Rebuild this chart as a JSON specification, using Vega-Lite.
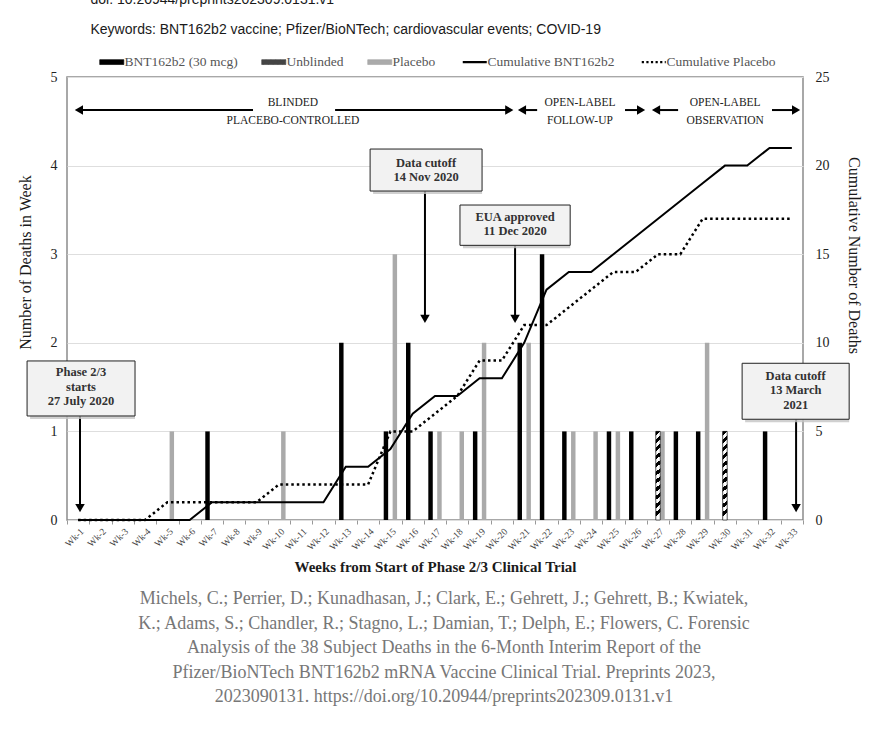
{
  "$schema": "https://vega.github.io/schema/vega-lite/v6.json",
  "autosize": {"type": "none"},
  "padding": {"left": 67, "top": 77, "right": 87, "bottom": 216},
  "width": 736,
  "height": 443,
  "background": "white",
  "config": {
    "font": "Liberation Serif",
    "view": {"stroke": "#8c8c8c", "strokeWidth": 1.5}
  },
  "title": {
    "text": [
      "Michels, C.; Perrier, D.; Kunadhasan, J.; Clark, E.; Gehrett, J.; Gehrett, B.; Kwiatek,",
      "K.; Adams, S.; Chandler, R.; Stagno, L.; Damian, T.; Delph, E.; Flowers, C. Forensic",
      "Analysis of the 38 Subject Deaths in the 6-Month Interim Report of the",
      "Pfizer/BioNTech BNT162b2 mRNA Vaccine Clinical Trial. Preprints 2023,",
      "2023090131. https://doi.org/10.20944/preprints202309.0131.v1"
    ],
    "orient": "bottom",
    "anchor": "middle",
    "frame": "group",
    "font": "Liberation Serif",
    "fontSize": 18,
    "fontWeight": "normal",
    "color": "#777777",
    "lineHeight": 24.5,
    "offset": 16,
    "dx": 9
  },
  "datasets": {
    "bars": [
      {"week": "Wk-7", "series": "BNT162b2 (30 mcg)", "deaths": 1},
      {"week": "Wk-13", "series": "BNT162b2 (30 mcg)", "deaths": 2},
      {"week": "Wk-15", "series": "BNT162b2 (30 mcg)", "deaths": 1},
      {"week": "Wk-16", "series": "BNT162b2 (30 mcg)", "deaths": 2},
      {"week": "Wk-17", "series": "BNT162b2 (30 mcg)", "deaths": 1},
      {"week": "Wk-19", "series": "BNT162b2 (30 mcg)", "deaths": 1},
      {"week": "Wk-21", "series": "BNT162b2 (30 mcg)", "deaths": 2},
      {"week": "Wk-22", "series": "BNT162b2 (30 mcg)", "deaths": 3},
      {"week": "Wk-23", "series": "BNT162b2 (30 mcg)", "deaths": 1},
      {"week": "Wk-25", "series": "BNT162b2 (30 mcg)", "deaths": 1},
      {"week": "Wk-26", "series": "BNT162b2 (30 mcg)", "deaths": 1},
      {"week": "Wk-28", "series": "BNT162b2 (30 mcg)", "deaths": 1},
      {"week": "Wk-29", "series": "BNT162b2 (30 mcg)", "deaths": 1},
      {"week": "Wk-32", "series": "BNT162b2 (30 mcg)", "deaths": 1},
      {"week": "Wk-27", "series": "Unblinded", "deaths": 1},
      {"week": "Wk-30", "series": "Unblinded", "deaths": 1},
      {"week": "Wk-5", "series": "Placebo", "deaths": 1},
      {"week": "Wk-10", "series": "Placebo", "deaths": 1},
      {"week": "Wk-15", "series": "Placebo", "deaths": 3},
      {"week": "Wk-17", "series": "Placebo", "deaths": 1},
      {"week": "Wk-18", "series": "Placebo", "deaths": 1},
      {"week": "Wk-19", "series": "Placebo", "deaths": 2},
      {"week": "Wk-21", "series": "Placebo", "deaths": 2},
      {"week": "Wk-23", "series": "Placebo", "deaths": 1},
      {"week": "Wk-24", "series": "Placebo", "deaths": 1},
      {"week": "Wk-25", "series": "Placebo", "deaths": 1},
      {"week": "Wk-27", "series": "Placebo", "deaths": 1},
      {"week": "Wk-29", "series": "Placebo", "deaths": 2}
    ],
    "cum": [
      {"week": "Wk-1", "series": "Cumulative BNT162b2", "cum": 0},
      {"week": "Wk-2", "series": "Cumulative BNT162b2", "cum": 0},
      {"week": "Wk-3", "series": "Cumulative BNT162b2", "cum": 0},
      {"week": "Wk-4", "series": "Cumulative BNT162b2", "cum": 0},
      {"week": "Wk-5", "series": "Cumulative BNT162b2", "cum": 0},
      {"week": "Wk-6", "series": "Cumulative BNT162b2", "cum": 0},
      {"week": "Wk-7", "series": "Cumulative BNT162b2", "cum": 1},
      {"week": "Wk-8", "series": "Cumulative BNT162b2", "cum": 1},
      {"week": "Wk-9", "series": "Cumulative BNT162b2", "cum": 1},
      {"week": "Wk-10", "series": "Cumulative BNT162b2", "cum": 1},
      {"week": "Wk-11", "series": "Cumulative BNT162b2", "cum": 1},
      {"week": "Wk-12", "series": "Cumulative BNT162b2", "cum": 1},
      {"week": "Wk-13", "series": "Cumulative BNT162b2", "cum": 3},
      {"week": "Wk-14", "series": "Cumulative BNT162b2", "cum": 3},
      {"week": "Wk-15", "series": "Cumulative BNT162b2", "cum": 4},
      {"week": "Wk-16", "series": "Cumulative BNT162b2", "cum": 6},
      {"week": "Wk-17", "series": "Cumulative BNT162b2", "cum": 7},
      {"week": "Wk-18", "series": "Cumulative BNT162b2", "cum": 7},
      {"week": "Wk-19", "series": "Cumulative BNT162b2", "cum": 8},
      {"week": "Wk-20", "series": "Cumulative BNT162b2", "cum": 8},
      {"week": "Wk-21", "series": "Cumulative BNT162b2", "cum": 10},
      {"week": "Wk-22", "series": "Cumulative BNT162b2", "cum": 13},
      {"week": "Wk-23", "series": "Cumulative BNT162b2", "cum": 14},
      {"week": "Wk-24", "series": "Cumulative BNT162b2", "cum": 14},
      {"week": "Wk-25", "series": "Cumulative BNT162b2", "cum": 15},
      {"week": "Wk-26", "series": "Cumulative BNT162b2", "cum": 16},
      {"week": "Wk-27", "series": "Cumulative BNT162b2", "cum": 17},
      {"week": "Wk-28", "series": "Cumulative BNT162b2", "cum": 18},
      {"week": "Wk-29", "series": "Cumulative BNT162b2", "cum": 19},
      {"week": "Wk-30", "series": "Cumulative BNT162b2", "cum": 20},
      {"week": "Wk-31", "series": "Cumulative BNT162b2", "cum": 20},
      {"week": "Wk-32", "series": "Cumulative BNT162b2", "cum": 21},
      {"week": "Wk-33", "series": "Cumulative BNT162b2", "cum": 21},
      {"week": "Wk-1", "series": "Cumulative Placebo", "cum": 0},
      {"week": "Wk-2", "series": "Cumulative Placebo", "cum": 0},
      {"week": "Wk-3", "series": "Cumulative Placebo", "cum": 0},
      {"week": "Wk-4", "series": "Cumulative Placebo", "cum": 0},
      {"week": "Wk-5", "series": "Cumulative Placebo", "cum": 1},
      {"week": "Wk-6", "series": "Cumulative Placebo", "cum": 1},
      {"week": "Wk-7", "series": "Cumulative Placebo", "cum": 1},
      {"week": "Wk-8", "series": "Cumulative Placebo", "cum": 1},
      {"week": "Wk-9", "series": "Cumulative Placebo", "cum": 1},
      {"week": "Wk-10", "series": "Cumulative Placebo", "cum": 2},
      {"week": "Wk-11", "series": "Cumulative Placebo", "cum": 2},
      {"week": "Wk-12", "series": "Cumulative Placebo", "cum": 2},
      {"week": "Wk-13", "series": "Cumulative Placebo", "cum": 2},
      {"week": "Wk-14", "series": "Cumulative Placebo", "cum": 2},
      {"week": "Wk-15", "series": "Cumulative Placebo", "cum": 5},
      {"week": "Wk-16", "series": "Cumulative Placebo", "cum": 5},
      {"week": "Wk-17", "series": "Cumulative Placebo", "cum": 6},
      {"week": "Wk-18", "series": "Cumulative Placebo", "cum": 7},
      {"week": "Wk-19", "series": "Cumulative Placebo", "cum": 9},
      {"week": "Wk-20", "series": "Cumulative Placebo", "cum": 9},
      {"week": "Wk-21", "series": "Cumulative Placebo", "cum": 11},
      {"week": "Wk-22", "series": "Cumulative Placebo", "cum": 11},
      {"week": "Wk-23", "series": "Cumulative Placebo", "cum": 12},
      {"week": "Wk-24", "series": "Cumulative Placebo", "cum": 13},
      {"week": "Wk-25", "series": "Cumulative Placebo", "cum": 14},
      {"week": "Wk-26", "series": "Cumulative Placebo", "cum": 14},
      {"week": "Wk-27", "series": "Cumulative Placebo", "cum": 15},
      {"week": "Wk-28", "series": "Cumulative Placebo", "cum": 15},
      {"week": "Wk-29", "series": "Cumulative Placebo", "cum": 17},
      {"week": "Wk-30", "series": "Cumulative Placebo", "cum": 17},
      {"week": "Wk-31", "series": "Cumulative Placebo", "cum": 17},
      {"week": "Wk-32", "series": "Cumulative Placebo", "cum": 17},
      {"week": "Wk-33", "series": "Cumulative Placebo", "cum": 17}
    ],
    "boxes": [
      {"cx": 0.628, "cy": 1.665, "x1": -1.79, "x2": 3.05, "y1": 1.174, "y2": 1.795, "label": "Phase 2/3\nstarts\n27 July 2020"},
      {"cx": 16.1, "cy": 4.03, "x1": 13.59, "x2": 18.61, "y1": 3.713, "y2": 4.187, "label": "Data cutoff\n14 Nov 2020"},
      {"cx": 20.09, "cy": 3.423, "x1": 17.62, "x2": 22.56, "y1": 3.10, "y2": 3.555, "label": "EUA approved\n11 Dec 2020"},
      {"cx": 32.67, "cy": 1.63, "x1": 30.27, "x2": 35.07, "y1": 1.137, "y2": 1.769, "label": "Data cutoff\n13 March\n2021"}
    ],
    "arrows": [
      {"x": 0.583, "x2": 0.583, "y": 1.174, "y2": 0.16},
      {"x": 16.05, "x2": 16.05, "y": 3.713, "y2": 2.3},
      {"x": 20.09, "x2": 20.09, "y": 3.1, "y2": 2.3},
      {"x": 32.69, "x2": 32.69, "y": 1.137, "y2": 0.16},
      {"x": 0.6, "x2": 8.34, "y": 4.627, "y2": 4.627},
      {"x": 12.02, "x2": 19.8, "y": 4.627, "y2": 4.627},
      {"x": 20.45, "x2": 21.08, "y": 4.627, "y2": 4.627},
      {"x": 25.02, "x2": 25.7, "y": 4.627, "y2": 4.627},
      {"x": 26.45, "x2": 27.4, "y": 4.627, "y2": 4.627},
      {"x": 31.61, "x2": 32.65, "y": 4.627, "y2": 4.627}
    ],
    "heads": [
      {"x": 0.583, "y": 0.135, "dir": "down"},
      {"x": 16.05, "y": 2.27, "dir": "down"},
      {"x": 20.09, "y": 2.27, "dir": "down"},
      {"x": 32.69, "y": 0.135, "dir": "down"},
      {"x": 0.534, "y": 4.627, "dir": "left"},
      {"x": 20.4, "y": 4.627, "dir": "left"},
      {"x": 26.41, "y": 4.627, "dir": "left"},
      {"x": 19.83, "y": 4.627, "dir": "right"},
      {"x": 25.74, "y": 4.627, "dir": "right"},
      {"x": 32.69, "y": 4.627, "dir": "right"}
    ],
    "phases": [
      {"x": 10.13, "y": 4.707, "label": "BLINDED\nPLACEBO-CONTROLLED"},
      {"x": 23.0, "y": 4.707, "label": "OPEN-LABEL\nFOLLOW-UP"},
      {"x": 29.51, "y": 4.707, "label": "OPEN-LABEL\nOBSERVATION"}
    ]
  },
  "resolve": {
    "scale": {"x": "independent", "y": "independent"},
    "axis": {"x": "independent", "y": "independent"}
  },
  "layer": [
    {
      "data": {"name": "bars"},
      "mark": {"type": "bar"},
      "encoding": {
        "x": {
          "field": "week", "type": "nominal",
          "scale": {"domain": ["Wk-1","Wk-2","Wk-3","Wk-4","Wk-5","Wk-6","Wk-7","Wk-8","Wk-9","Wk-10","Wk-11","Wk-12","Wk-13","Wk-14","Wk-15","Wk-16","Wk-17","Wk-18","Wk-19","Wk-20","Wk-21","Wk-22","Wk-23","Wk-24","Wk-25","Wk-26","Wk-27","Wk-28","Wk-29","Wk-30","Wk-31","Wk-32","Wk-33"], "paddingInner": 0, "paddingOuter": 0},
          "axis": {
            "orient": "bottom",
            "title": "Weeks from Start of Phase 2/3 Clinical Trial",
            "titleFont": "Liberation Serif", "titleFontSize": 15, "titleFontWeight": "bold", "titleColor": "#1a1a1a",
            "titlePadding": 8,
            "labelAngle": -45, "labelFont": "Liberation Serif", "labelFontSize": 9.5, "labelColor": "#444",
            "labelPadding": 2,
            "tickBand": "extent", "ticks": true, "tickSize": 4, "tickColor": "#999",
            "domain": false, "grid": false
          }
        },
        "xOffset": {"field": "series", "type": "nominal", "scale": {"domain": ["BNT162b2 (30 mcg)", "Unblinded", "Placebo"], "paddingInner": 0, "paddingOuter": 1.5}},
        "y": {
          "field": "deaths", "type": "quantitative",
          "scale": {"domain": [0, 5], "nice": false},
          "axis": {
            "orient": "left", "values": [0, 1, 2, 3, 4, 5],
            "title": "Number of Deaths in Week",
            "titleFont": "Liberation Serif", "titleFontSize": 16, "titleFontWeight": "normal", "titleColor": "#1a1a1a",
            "titleX": -34, "titleY": 185,
            "labelFont": "Liberation Serif", "labelFontSize": 14, "labelColor": "#222", "labelPadding": 10,
            "ticks": false, "domain": false, "grid": true, "gridColor": "#dedede"
          }
        },
        "color": {
          "field": "series", "type": "nominal",
          "scale": {
            "domain": ["BNT162b2 (30 mcg)", "Unblinded", "Placebo", "Cumulative BNT162b2", "Cumulative Placebo"],
            "range": ["#000000", "#444444", "#aaaaaa", "#000000", "#000000"]
          },
          "legend": {
            "title": null, "orient": "none", "legendX": 38, "legendY": -22, "direction": "horizontal",
            "symbolSize": 576, "labelFont": "Liberation Serif", "labelFontSize": 13.5, "labelColor": "#555",
            "columnPadding": 22, "labelOffset": 6,
            "encode": {
              "symbols": {
                "update": {
                  "shape": {"signal": "datum.value === 'Unblinded' ? 'M-1,-0.2H1V0.2H-1Z M-0.85,0.2L-0.65,-0.2 M-0.45,0.2L-0.25,-0.2 M-0.05,0.2L0.15,-0.2 M0.35,0.2L0.55,-0.2 M0.75,0.2L0.95,-0.2' : indexof(['Cumulative BNT162b2','Cumulative Placebo'], datum.value) >= 0 ? 'stroke' : 'M-1,-0.2H1V0.2H-1Z'"},
                  "fill": {"signal": "datum.value === 'BNT162b2 (30 mcg)' ? '#000000' : datum.value === 'Placebo' ? '#aaaaaa' : datum.value === 'Unblinded' ? '#ffffff' : 'transparent'"},
                  "stroke": {"signal": "datum.value === 'Placebo' ? '#aaaaaa' : '#000000'"},
                  "strokeWidth": {"signal": "indexof(['Cumulative BNT162b2','Cumulative Placebo'], datum.value) >= 0 ? 2.2 : datum.value === 'Unblinded' ? 0.8 : 0.8"},
                  "strokeDash": {"signal": "datum.value === 'Cumulative Placebo' ? [2.2, 2.4] : [1, 0]"},
                  "opacity": {"value": 1}
                }
              }
            }
          }
        }
      }
    },
    {
      "data": {"name": "bars"},
      "transform": [{"filter": "datum.series === 'Unblinded'"}],
      "mark": {
        "type": "bar", "stroke": "#000000", "strokeWidth": 0.6,
        "fill": {"gradient": "linear", "x1": 0, "y1": 0, "x2": 0.042, "y2": 1, "stops": [
          {"offset": 0, "color": "#000"}, {"offset": 0.045, "color": "#000"}, {"offset": 0.045, "color": "#fff"}, {"offset": 0.091, "color": "#fff"},
          {"offset": 0.091, "color": "#000"}, {"offset": 0.136, "color": "#000"}, {"offset": 0.136, "color": "#fff"}, {"offset": 0.182, "color": "#fff"},
          {"offset": 0.182, "color": "#000"}, {"offset": 0.227, "color": "#000"}, {"offset": 0.227, "color": "#fff"}, {"offset": 0.273, "color": "#fff"},
          {"offset": 0.273, "color": "#000"}, {"offset": 0.318, "color": "#000"}, {"offset": 0.318, "color": "#fff"}, {"offset": 0.364, "color": "#fff"},
          {"offset": 0.364, "color": "#000"}, {"offset": 0.409, "color": "#000"}, {"offset": 0.409, "color": "#fff"}, {"offset": 0.455, "color": "#fff"},
          {"offset": 0.455, "color": "#000"}, {"offset": 0.5, "color": "#000"}, {"offset": 0.5, "color": "#fff"}, {"offset": 0.545, "color": "#fff"},
          {"offset": 0.545, "color": "#000"}, {"offset": 0.591, "color": "#000"}, {"offset": 0.591, "color": "#fff"}, {"offset": 0.636, "color": "#fff"},
          {"offset": 0.636, "color": "#000"}, {"offset": 0.682, "color": "#000"}, {"offset": 0.682, "color": "#fff"}, {"offset": 0.727, "color": "#fff"},
          {"offset": 0.727, "color": "#000"}, {"offset": 0.773, "color": "#000"}, {"offset": 0.773, "color": "#fff"}, {"offset": 0.818, "color": "#fff"},
          {"offset": 0.818, "color": "#000"}, {"offset": 0.864, "color": "#000"}, {"offset": 0.864, "color": "#fff"}, {"offset": 0.909, "color": "#fff"},
          {"offset": 0.909, "color": "#000"}, {"offset": 0.955, "color": "#000"}, {"offset": 0.955, "color": "#fff"}, {"offset": 1, "color": "#fff"}
        ]}
      },
      "encoding": {
        "x": {
          "field": "week", "type": "nominal",
          "scale": {"domain": ["Wk-1","Wk-2","Wk-3","Wk-4","Wk-5","Wk-6","Wk-7","Wk-8","Wk-9","Wk-10","Wk-11","Wk-12","Wk-13","Wk-14","Wk-15","Wk-16","Wk-17","Wk-18","Wk-19","Wk-20","Wk-21","Wk-22","Wk-23","Wk-24","Wk-25","Wk-26","Wk-27","Wk-28","Wk-29","Wk-30","Wk-31","Wk-32","Wk-33"], "paddingInner": 0, "paddingOuter": 0},
          "axis": null
        },
        "xOffset": {"field": "series", "type": "nominal", "scale": {"domain": ["BNT162b2 (30 mcg)", "Unblinded", "Placebo"], "paddingInner": 0, "paddingOuter": 1.5}},
        "y": {"field": "deaths", "type": "quantitative", "scale": {"domain": [0, 5], "nice": false}, "axis": null}
      }
    },
    {
      "data": {"name": "cum"},
      "transform": [{"filter": "datum.series === 'Cumulative BNT162b2'"}],
      "mark": {"type": "line", "strokeWidth": 2},
      "encoding": {
        "x": {
          "field": "week", "type": "nominal",
          "scale": {"type": "point", "padding": 0.5, "domain": ["Wk-1","Wk-2","Wk-3","Wk-4","Wk-5","Wk-6","Wk-7","Wk-8","Wk-9","Wk-10","Wk-11","Wk-12","Wk-13","Wk-14","Wk-15","Wk-16","Wk-17","Wk-18","Wk-19","Wk-20","Wk-21","Wk-22","Wk-23","Wk-24","Wk-25","Wk-26","Wk-27","Wk-28","Wk-29","Wk-30","Wk-31","Wk-32","Wk-33"]},
          "axis": null
        },
        "y": {
          "field": "cum", "type": "quantitative",
          "scale": {"domain": [0, 25], "nice": false},
          "axis": {
            "orient": "right", "values": [0, 5, 10, 15, 20, 25],
            "title": "Cumulative Number of Deaths",
            "titleFont": "Liberation Serif", "titleFontSize": 16, "titleFontWeight": "normal", "titleColor": "#1a1a1a",
            "titleX": 42, "titleY": 178,
            "labelFont": "Liberation Serif", "labelFontSize": 14, "labelColor": "#222", "labelPadding": 12,
            "ticks": false, "domain": false, "grid": false
          }
        },
        "color": {"field": "series", "type": "nominal"}
      }
    },
    {
      "data": {"name": "cum"},
      "transform": [{"filter": "datum.series === 'Cumulative Placebo'"}],
      "mark": {"type": "line", "strokeWidth": 2.5, "strokeDash": [2.5, 3]},
      "encoding": {
        "x": {
          "field": "week", "type": "nominal",
          "scale": {"type": "point", "padding": 0.5, "domain": ["Wk-1","Wk-2","Wk-3","Wk-4","Wk-5","Wk-6","Wk-7","Wk-8","Wk-9","Wk-10","Wk-11","Wk-12","Wk-13","Wk-14","Wk-15","Wk-16","Wk-17","Wk-18","Wk-19","Wk-20","Wk-21","Wk-22","Wk-23","Wk-24","Wk-25","Wk-26","Wk-27","Wk-28","Wk-29","Wk-30","Wk-31","Wk-32","Wk-33"]},
          "axis": null
        },
        "y": {"field": "cum", "type": "quantitative", "scale": {"domain": [0, 25], "nice": false}, "axis": null},
        "color": {"field": "series", "type": "nominal"}
      }
    },
    {
      "data": {"name": "arrows"},
      "mark": {"type": "rule", "strokeWidth": 2, "color": "#000000"},
      "encoding": {
        "x": {"field": "x", "type": "quantitative", "scale": {"domain": [0, 33], "nice": false, "zero": false}, "axis": null},
        "x2": {"field": "x2"},
        "y": {"field": "y", "type": "quantitative", "scale": {"domain": [0, 5], "nice": false}, "axis": null},
        "y2": {"field": "y2"}
      }
    },
    {
      "data": {"name": "heads"},
      "mark": {"type": "point", "filled": true, "color": "#000000", "opacity": 1, "size": 90},
      "encoding": {
        "x": {"field": "x", "type": "quantitative", "scale": {"domain": [0, 33], "nice": false, "zero": false}, "axis": null},
        "y": {"field": "y", "type": "quantitative", "scale": {"domain": [0, 5], "nice": false}, "axis": null},
        "shape": {"field": "dir", "type": "nominal", "scale": {"domain": ["down", "left", "right"], "range": ["triangle-down", "triangle-left", "triangle-right"]}, "legend": null}
      }
    },
    {
      "data": {"name": "boxes"},
      "mark": {"type": "rect", "fill": "#c4c4c4", "opacity": 0.8, "xOffset": 3, "yOffset": 3},
      "encoding": {
        "x": {"field": "x1", "type": "quantitative", "scale": {"domain": [0, 33], "nice": false, "zero": false}, "axis": null},
        "x2": {"field": "x2"},
        "y": {"field": "y1", "type": "quantitative", "scale": {"domain": [0, 5], "nice": false}, "axis": null},
        "y2": {"field": "y2"}
      }
    },
    {
      "data": {"name": "boxes"},
      "mark": {"type": "rect", "fill": "#f2f2f2", "stroke": "#222222", "strokeWidth": 1},
      "encoding": {
        "x": {"field": "x1", "type": "quantitative", "scale": {"domain": [0, 33], "nice": false, "zero": false}, "axis": null},
        "x2": {"field": "x2"},
        "y": {"field": "y1", "type": "quantitative", "scale": {"domain": [0, 5], "nice": false}, "axis": null},
        "y2": {"field": "y2"}
      }
    },
    {
      "data": {"name": "boxes"},
      "mark": {"type": "text", "font": "Liberation Serif", "fontSize": 12.5, "fontWeight": "bold", "color": "#333333", "lineBreak": "\n", "lineHeight": 14.5, "align": "center", "baseline": "middle"},
      "encoding": {
        "x": {"field": "cx", "type": "quantitative", "scale": {"domain": [0, 33], "nice": false, "zero": false}, "axis": null},
        "y": {"field": "cy", "type": "quantitative", "scale": {"domain": [0, 5], "nice": false}, "axis": null},
        "text": {"field": "label"}
      }
    },
    {
      "data": {"name": "phases"},
      "mark": {"type": "text", "font": "Liberation Serif", "fontSize": 11.5, "color": "#222222", "lineBreak": "\n", "lineHeight": 18, "align": "center", "baseline": "middle"},
      "encoding": {
        "x": {
          "field": "x", "type": "quantitative", "scale": {"domain": [0, 33], "nice": false, "zero": false},
          "axis": {
            "orient": "top", "ticks": false, "labels": false, "domain": false, "grid": false,
            "title": ["doi: 10.20944/preprints202309.0131.v1", "Keywords: BNT162b2 vaccine; Pfizer/BioNTech; cardiovascular events; COVID-19"],
            "titleFont": "Liberation Sans", "titleFontSize": 14, "titleFontWeight": "normal", "titleColor": "#1a1a1a",
            "titleAnchor": "start", "titleAlign": "left", "titleBaseline": "alphabetic",
            "titleX": 23, "titleY": -74, "titleLineHeight": 30
          }
        },
        "y": {"field": "y", "type": "quantitative", "scale": {"domain": [0, 5], "nice": false}, "axis": null},
        "text": {"field": "label"}
      }
    }
  ]
}
